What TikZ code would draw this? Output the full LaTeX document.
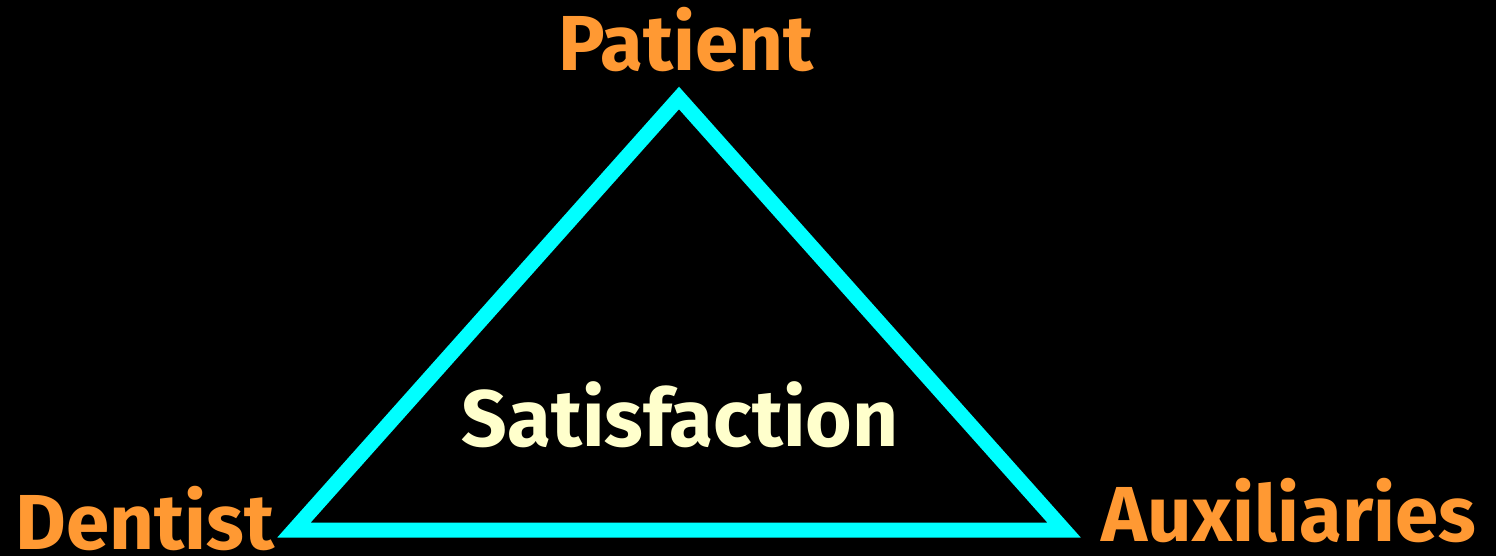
\documentclass[tikz,border=0pt]{standalone}
\usepackage{fontspec}
\setmainfont{Fira Sans}
\usetikzlibrary{positioning}

\definecolor{labelorange}{HTML}{FF9933}
\definecolor{cream}{HTML}{FFFFCC}
\definecolor{tricyan}{HTML}{00FFFF}

\begin{document}
\begin{tikzpicture}[
  x=1pt, y=-1pt,
  corner/.style={
    font=\fontsize{78}{86}\selectfont\bfseries,
    text=labelorange,
    anchor=base,
    inner sep=0pt
  },
  centre/.style={
    font=\fontsize{80}{88}\selectfont\bfseries,
    text=cream,
    anchor=base,
    inner sep=0pt
  },
  edge/.style={draw=tricyan, line width=15pt, line join=miter}
]

% Background and page size
\fill[black] (0,0) rectangle (1496,556);
\useasboundingbox (0,0) rectangle (1496,556);

% Triangle corners
\coordinate (top) at (679,98);
\coordinate (left) at (294,530);
\coordinate (right) at (1064,530);

% Triangle
\draw[edge] (top) -- (left) -- (right) -- cycle;

% Labels
\node[corner] (patient) at (686,71) {Patient};
\node[corner] (dentist) at (145,549) {Dentist};
\node[corner] (auxiliaries) at (1289,541) {Auxiliaries};
\node[centre] (satisfaction) at (680,446) {Satisfaction};

\end{tikzpicture}
\end{document}
